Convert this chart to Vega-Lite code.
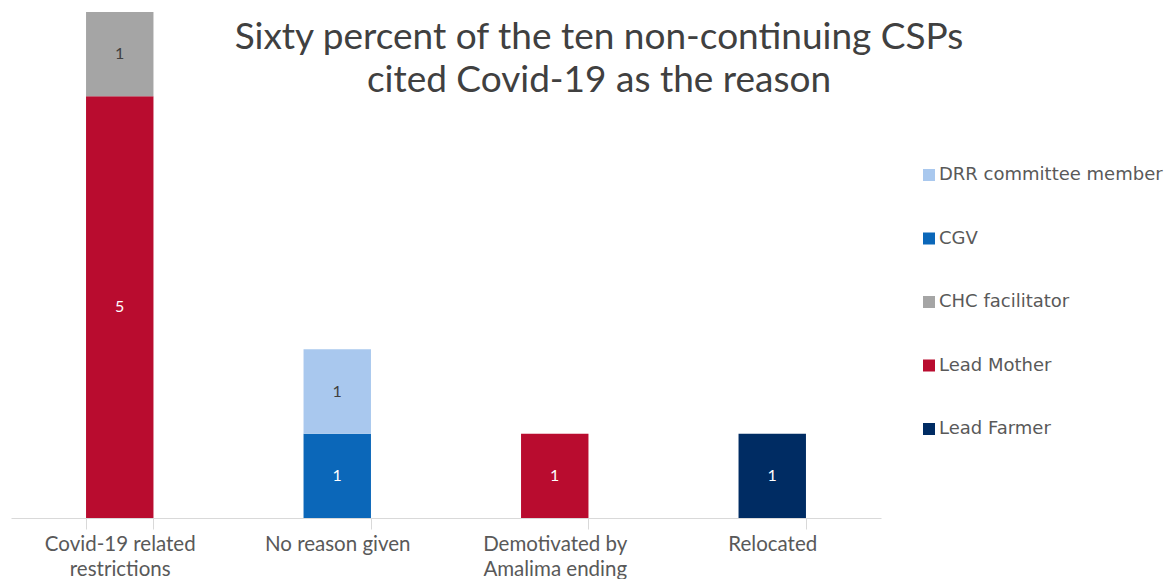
{
  "$schema": "https://vega.github.io/schema/vega-lite/v6.json",
  "autosize": "none",
  "width": 870,
  "height": 506,
  "padding": {"left": 11, "top": 12, "right": 291, "bottom": 61},
  "background": "white",
  "config": {"view": {"stroke": null}, "font": "Lato"},
  "title": {
    "text": ["Sixty percent of the ten non-continuing CSPs", "cited Covid-19 as the reason"],
    "orient": "top",
    "anchor": "middle",
    "baseline": "alphabetic",
    "offset": 0,
    "dx": 153,
    "dy": 117,
    "fontSize": 37,
    "font": "Lato",
    "fontWeight": "normal",
    "color": "#404040",
    "lineHeight": 43
  },
  "data": {
    "values": [
      {"reason": "Covid-19 related|restrictions", "role": "Lead Mother", "count": 5},
      {"reason": "Covid-19 related|restrictions", "role": "CHC facilitator", "count": 1},
      {"reason": "No reason given", "role": "CGV", "count": 1},
      {"reason": "No reason given", "role": "DRR committee member", "count": 1},
      {"reason": "Demotivated by|Amalima ending", "role": "Lead Mother", "count": 1},
      {"reason": "Relocated", "role": "Lead Farmer", "count": 1}
    ]
  },
  "transform": [
    {"calculate": "indexof(['Lead Farmer','Lead Mother','CHC facilitator','CGV','DRR committee member'], datum.role)", "as": "ord"},
    {"stack": "count", "groupby": ["reason"], "sort": [{"field": "ord", "order": "ascending"}], "as": ["y0", "y1"]},
    {"calculate": "(datum.y0 + datum.y1) / 2", "as": "mid"}
  ],
  "encoding": {
    "x": {
      "field": "reason",
      "type": "nominal",
      "sort": ["Covid-19 related|restrictions", "No reason given", "Demotivated by|Amalima ending", "Relocated"],
      "scale": {"paddingInner": 0.69, "paddingOuter": 0.345},
      "axis": {
        "title": null,
        "labelAngle": 0,
        "domainColor": "#d9d9d9",
        "tickColor": "#d9d9d9",
        "tickSize": 11,
        "tickBand": "extent",
        "labelFontSize": 20.5,
        "labelColor": "#595959",
        "labelFont": "Lato",
        "labelPadding": 5,
        "labelLineHeight": 25,
        "labelExpr": "isValid(datum.value) ? split(datum.value, '|') : ''"
      }
    }
  },
  "layer": [
    {
      "mark": {"type": "bar"},
      "encoding": {
        "y": {"field": "y0", "type": "quantitative", "scale": {"domain": [0, 6], "nice": false}, "axis": null},
        "y2": {"field": "y1"},
        "color": {
          "field": "role",
          "type": "nominal",
          "scale": {
            "domain": ["DRR committee member", "CGV", "CHC facilitator", "Lead Mother", "Lead Farmer"],
            "range": ["#a9c8ee", "#0b67b9", "#a5a5a5", "#b90c2f", "#002c63"]
          },
          "legend": {
            "orient": "none",
            "legendX": 909,
            "legendY": 154,
            "title": null,
            "symbolType": "square",
            "symbolSize": 144,
            "symbolStrokeWidth": 0,
            "labelFontSize": 18,
            "labelColor": "#595959",
            "labelFont": "DejaVu Sans",
            "labelLimit": 400,
            "rowPadding": 45.5,
            "labelOffset": 1,
            "padding": 0
          }
        }
      }
    },
    {
      "mark": {"type": "text", "fontSize": 16, "font": "Lato", "baseline": "middle"},
      "encoding": {
        "y": {"field": "mid", "type": "quantitative"},
        "text": {"field": "count", "type": "quantitative"},
        "color": {
          "condition": {"test": "datum.role === 'CHC facilitator' || datum.role === 'DRR committee member'", "value": "#404040"},
          "value": "#ffffff"
        }
      }
    }
  ]
}
